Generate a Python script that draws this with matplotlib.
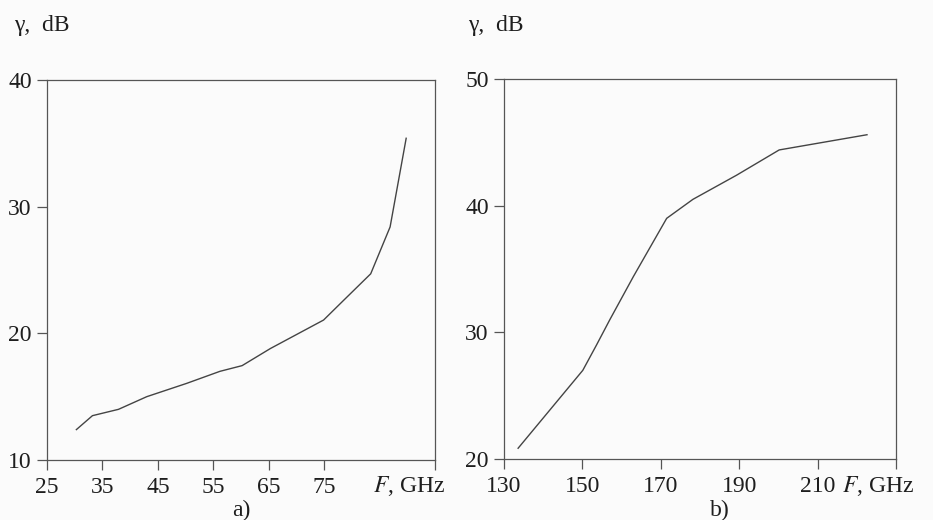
import numpy as np
import matplotlib
matplotlib.use('Agg')
import matplotlib.pyplot as plt

plt.rcParams['font.family'] = ['Liberation Serif', 'DejaVu Serif']
plt.rcParams['mathtext.fontset'] = 'stix'

# panel a) attenuation vs frequency
freqA = [30.3, 33.2, 37.9, 43.0, 50.2, 56.2, 60.2, 65.3, 74.9, 78.5, 83.4, 86.9, 89.8]
gammaA = [12.4, 13.5, 14.0, 15.0, 16.05, 17.0, 17.45, 18.8, 21.05, 22.6, 24.7, 28.4, 35.4]
ticksA = [25, 35, 45, 55, 65, 75, 95]
labelsA = ['25', '35', '45', '55', '65', '75', '']

# panel b)
freqB = [133.6, 150.1, 153.6, 157.0, 163.0, 171.5, 178.2, 189.3, 200.2, 222.6]
gammaB = [20.85, 27.0, 29.0, 31.0, 34.4, 39.0, 40.5, 42.4, 44.4, 45.6]
ticksB = [130, 150, 170, 190, 210, 230]
labelsB = ['130', '150', '170', '190', '210', '']

W, H = 933, 520
fig = plt.figure(figsize=(W/100, H/100), dpi=100)
fig.patch.set_facecolor('#fbfbfb')

ink = '#1e1e1e'
axc = '#555555'
fs = 17

def make_ax(x0, x1, y0, y1):
    ax = fig.add_axes([x0/W, 1 - y1/H, (x1-x0)/W, (y1-y0)/H])
    ax.set_facecolor('none')
    for s in ax.spines.values():
        s.set_color(axc)
        s.set_linewidth(0.9)
    ax.tick_params(direction='out', length=7, width=0.9, color=axc,
                   labelsize=fs, labelcolor=ink)
    ax.tick_params(axis='x', pad=5)
    ax.tick_params(axis='y', pad=4)
    return ax

ax1 = make_ax(47, 435, 80, 460)
ax1.plot(freqA, gammaA, color='#444444', lw=1.0)
ax1.set_xlim(25, 95)
ax1.set_ylim(10, 40)
ax1.set_xticks(ticksA)
ax1.set_xticklabels(labelsA)
ax1.set_yticks([10, 20, 30, 40])

ax2 = make_ax(504, 896, 79, 459)
ax2.plot(freqB, gammaB, color='#444444', lw=1.0)
ax2.set_xlim(130, 230)
ax2.set_ylim(20, 50)
ax2.set_xticks(ticksB)
ax2.set_xticklabels(labelsB)
ax2.set_yticks([20, 30, 40, 50])

fig.text(14/W, 1 - 25/H, 'γ,  dB', fontsize=fs, color=ink, va='center', ha='left')
fig.text(468/W, 1 - 25/H, 'γ,  dB', fontsize=fs, color=ink, va='center', ha='left')
fig.text(409/W, 1 - 486/H, '$F$, GHz', fontsize=fs, color=ink, va='center', ha='center')
fig.text(878/W, 1 - 486/H, '$F$, GHz', fontsize=fs, color=ink, va='center', ha='center')
fig.text(241/W, 1 - 510/H, 'a)', fontsize=fs, color=ink, va='center', ha='center')
fig.text(720/W, 1 - 510/H, 'b)', fontsize=fs, color=ink, va='center', ha='center')

fig.savefig('out.png', dpi=100, facecolor=fig.get_facecolor())
